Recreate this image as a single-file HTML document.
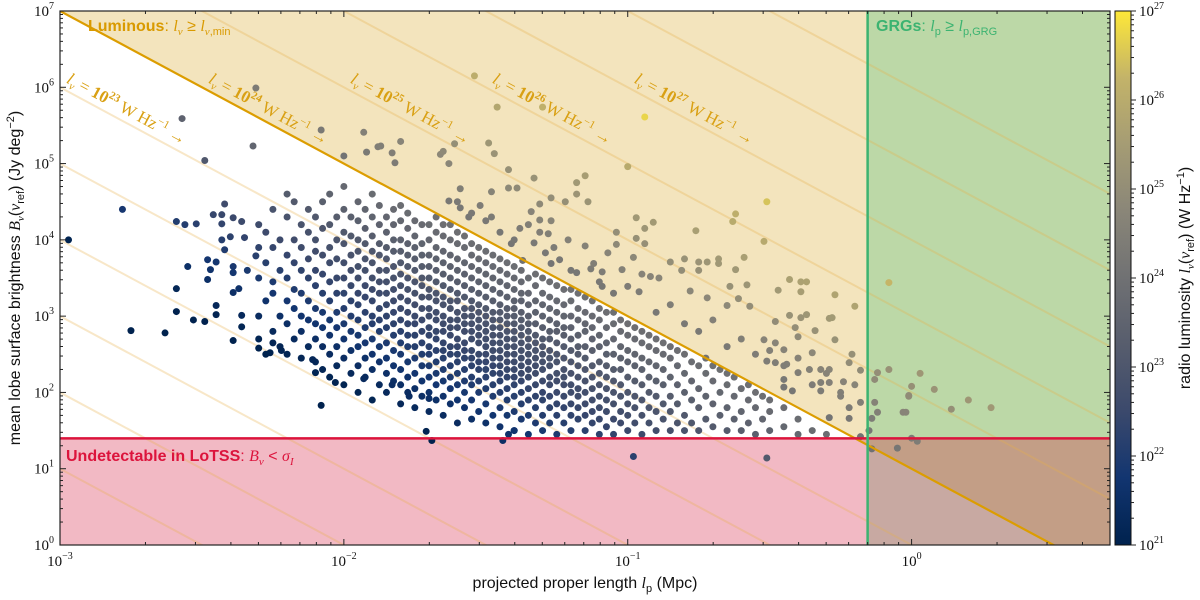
<!DOCTYPE html>
<html><head><meta charset="utf-8">
<style>
html,body{margin:0;padding:0;background:#fff;width:1200px;height:600px;overflow:hidden;}
svg{display:block;}
.ax{font-family:"Liberation Serif",serif;font-size:15px;fill:#111;}
.lab{font-family:"Liberation Sans",sans-serif;font-size:16px;fill:#111;}
.m{font-family:"Liberation Serif",serif;font-style:italic;}
</style></head>
<body>
<svg id="chart" width="1200" height="600" viewBox="0 0 1200 600">
<defs>
<clipPath id="plotclip"><rect x="60" y="11" width="1050" height="534"/></clipPath>
<linearGradient id="cbgrad" x1="0" y1="1" x2="0" y2="0">
<stop offset="0" stop-color="#00224e"/><stop offset="0.125" stop-color="#123570"/>
<stop offset="0.25" stop-color="#3b496c"/><stop offset="0.375" stop-color="#575d6d"/>
<stop offset="0.5" stop-color="#707173"/><stop offset="0.625" stop-color="#8a8678"/>
<stop offset="0.75" stop-color="#a59c74"/><stop offset="0.875" stop-color="#c3b369"/>
<stop offset="1" stop-color="#fee838"/></linearGradient>
</defs>
<g id="regions" clip-path="url(#plotclip)"></g>
<g id="guides" clip-path="url(#plotclip)"></g>
<g id="points" clip-path="url(#plotclip)"></g>
<g id="bounds" clip-path="url(#plotclip)"></g>
<g id="axes"></g>
<g id="annot">
<text x="88" y="31" style="font-family:'Liberation Sans',sans-serif;font-size:16px;fill:#d99a00;"><tspan font-weight="bold">Luminous</tspan>: <tspan class="m">l</tspan><tspan class="m" font-size="11" dy="4">ν</tspan><tspan dy="-4"> ≥ </tspan><tspan class="m">l</tspan><tspan font-size="11" dy="4"><tspan class="m">ν</tspan>,min</tspan></text>
<text x="876" y="31" style="font-family:'Liberation Sans',sans-serif;font-size:16px;fill:#3cb371;"><tspan font-weight="bold">GRGs</tspan>: <tspan class="m">l</tspan><tspan font-size="11" dy="4">p</tspan><tspan dy="-4"> ≥ </tspan><tspan class="m">l</tspan><tspan font-size="11" dy="4">p,GRG</tspan></text>
<text x="66" y="461" style="font-family:'Liberation Sans',sans-serif;font-size:16px;fill:#dc143c;"><tspan font-weight="bold">Undetectable in LoTSS</tspan>: <tspan class="m">B</tspan><tspan class="m" font-size="11" dy="4">ν</tspan><tspan dy="-4"> &lt; </tspan><tspan class="m">σ</tspan><tspan class="m" font-size="11" dy="4">I</tspan></text>
</g>
<g id="cbar">
<rect x="1115" y="11" width="16" height="534" fill="url(#cbgrad)" stroke="#111" stroke-width="1"/>
</g>
<text class="lab" transform="translate(1190,278) rotate(-90)" text-anchor="middle">radio luminosity <tspan class="m">l</tspan><tspan class="m" font-size="11" dy="4">ν</tspan><tspan dy="-4">(</tspan><tspan class="m">ν</tspan><tspan font-size="11" dy="4">ref</tspan><tspan dy="-4">) (W Hz</tspan><tspan font-size="11" dy="-6">−1</tspan><tspan dy="6">)</tspan></text>
<text class="lab" transform="translate(20,278) rotate(-90)" text-anchor="middle">mean lobe surface brightness <tspan class="m">B</tspan><tspan class="m" font-size="11" dy="4">ν</tspan><tspan dy="-4">(</tspan><tspan class="m">ν</tspan><tspan font-size="11" dy="4">ref</tspan><tspan dy="-4">) (Jy deg</tspan><tspan font-size="11" dy="-6">−2</tspan><tspan dy="6">)</tspan></text>
<text class="lab" x="585" y="588" text-anchor="middle">projected proper length <tspan class="m">l</tspan><tspan font-size="11" dy="4">p</tspan><tspan dy="-4"> (Mpc)</tspan></text>
</svg>
<script>
// ---- data ----
const xTickExp = [-3, -2, -1, 0];
const yTickExp = [0, 1, 2, 3, 4, 5, 6, 7];
const cbTickExp = [21, 22, 23, 24, 25, 26, 27];
const guideLumExp = [17, 18, 19, 20, 21, 22, 23, 25, 26, 27, 28, 29];
const lumMinExp = 24;
const grgLength = 0.7;
const sigmaB = 25;
const guideLabelExp = [23, 24, 25, 26, 27];
const guideLabelLogL = [-2.98, -2.48, -1.98, -1.48, -0.98];
// core columns: log10(l_p) and list of log10(B)
const colLogL = [-2.30,-2.275,-2.25,-2.225,-2.20,-2.175,-2.15,-2.125,-2.10,-2.075,-2.05,-2.025,-2.00,-1.975,-1.95,-1.925,-1.90,-1.875,-1.85,-1.825,-1.80,-1.775,-1.75,-1.725,-1.70,-1.675,-1.65,-1.625,-1.60,-1.575,-1.55,-1.525,-1.50,-1.475,-1.45,-1.425,-1.40,-1.375,-1.35,-1.325,-1.30,-1.275,-1.25,-1.225,-1.20,-1.175,-1.15,-1.125,-1.10,-1.075,-1.05,-1.025,-1.00,-0.975,-0.95,-0.925,-0.90,-0.875,-0.85,-0.825,-0.80,-0.775,-0.75,-0.725,-0.70,-0.675,-0.65,-0.625,-0.60,-0.575,-0.55,-0.525,-0.50,-0.45,-0.40,-0.35,-0.30];
const colLogB = [
[3.0,3.5,3.9,4.2,2.7],[2.5,3.2,3.7,4.1],[2.8,3.3,3.45,3.9,4.4],[2.6,3.0,3.6,4.0],
[2.5,2.9,3.2,3.5,3.8,4.3,4.6],[2.7,3.1,3.35,3.7,4.0,4.5],[2.45,2.8,3.0,3.3,3.6,3.9,4.2],[2.6,2.95,3.2,3.5,3.75,4.1,4.4],
[2.4,2.7,2.9,3.1,3.4,3.6,3.85,4.0,4.3],[2.3,2.6,2.85,3.05,3.3,3.55,3.8,4.15,4.5],[2.2,2.5,2.75,2.95,3.2,3.45,3.7,3.9,4.2,4.6],[2.35,2.6,2.85,3.05,3.3,3.5,3.75,4.0,4.3],
[2.1,2.45,2.7,2.9,3.1,3.3,3.5,3.7,3.95,4.1,4.4,4.7],[2.25,2.55,2.8,3.0,3.2,3.4,3.6,3.8,4.05,4.3],[2.0,2.35,2.6,2.75,2.95,3.15,3.3,3.5,3.65,3.85,4.0,4.25,4.5],[2.2,2.45,2.65,2.85,3.05,3.25,3.4,3.6,3.75,3.95,4.15,4.4],
[1.9,2.3,2.5,2.7,2.9,3.0,3.2,3.35,3.5,3.7,3.85,4.05,4.3,4.6],[2.1,2.4,2.6,2.8,2.95,3.1,3.3,3.45,3.6,3.8,3.95,4.2,4.45],[2.0,2.25,2.45,2.65,2.85,3.0,3.15,3.3,3.45,3.6,3.75,3.9,4.1,4.3],[2.15,2.35,2.55,2.75,2.9,3.05,3.2,3.35,3.5,3.65,3.85,4.0,4.2,4.4],
[1.85,2.1,2.3,2.5,2.65,2.8,2.95,3.1,3.25,3.4,3.55,3.7,3.85,4.0,4.25,4.45],[2.0,2.2,2.4,2.6,2.75,2.9,3.05,3.2,3.35,3.5,3.65,3.8,3.95,4.15,4.35],[1.8,2.05,2.25,2.45,2.6,2.75,2.9,3.0,3.15,3.3,3.45,3.6,3.75,3.9,4.05,4.25],[1.95,2.15,2.35,2.5,2.65,2.8,2.95,3.1,3.25,3.4,3.5,3.65,3.8,3.95,4.2],
[1.75,2.0,2.2,2.35,2.5,2.6,2.75,2.85,3.0,3.1,3.25,3.35,3.5,3.65,3.8,4.0,4.2],[1.9,2.1,2.25,2.4,2.55,2.7,2.8,2.95,3.05,3.2,3.3,3.45,3.6,3.75,3.9,4.1,4.3],[1.7,1.95,2.15,2.3,2.45,2.55,2.65,2.8,2.9,3.0,3.15,3.25,3.4,3.55,3.7,3.85,4.05,4.2],[1.85,2.05,2.2,2.35,2.5,2.6,2.75,2.85,2.95,3.1,3.2,3.35,3.5,3.65,3.8,4.0,4.2],
[1.6,1.9,2.1,2.25,2.4,2.5,2.6,2.7,2.85,2.95,3.05,3.2,3.3,3.45,3.6,3.75,3.95,4.1],[1.8,2.0,2.15,2.3,2.45,2.55,2.65,2.8,2.9,3.0,3.1,3.25,3.4,3.55,3.7,3.9,4.05],[1.65,1.9,2.1,2.2,2.35,2.45,2.55,2.7,2.8,2.9,3.0,3.1,3.2,3.35,3.5,3.65,3.8,3.95],[1.75,2.0,2.15,2.3,2.4,2.5,2.65,2.75,2.85,2.95,3.05,3.15,3.3,3.45,3.6,3.75,3.9],
[1.6,1.85,2.05,2.2,2.3,2.4,2.5,2.6,2.7,2.8,2.9,3.0,3.1,3.25,3.4,3.55,3.7,3.85],[1.7,1.95,2.1,2.25,2.35,2.45,2.55,2.65,2.75,2.85,2.95,3.05,3.2,3.35,3.5,3.65,3.8],[1.55,1.8,2.0,2.15,2.25,2.35,2.45,2.55,2.65,2.75,2.85,2.95,3.05,3.15,3.3,3.45,3.6,3.75],[1.7,1.9,2.05,2.2,2.3,2.4,2.5,2.6,2.7,2.8,2.9,3.0,3.1,3.25,3.4,3.55,3.7],
[1.5,1.75,1.95,2.1,2.2,2.3,2.4,2.5,2.6,2.7,2.8,2.9,3.0,3.1,3.2,3.35,3.5,3.65],[1.65,1.85,2.0,2.15,2.25,2.35,2.45,2.55,2.65,2.75,2.85,2.95,3.05,3.2,3.3,3.45,3.6],[1.45,1.7,1.9,2.05,2.2,2.3,2.4,2.5,2.6,2.7,2.8,2.9,3.0,3.15,3.3,3.5],[1.6,1.8,1.95,2.1,2.25,2.35,2.45,2.55,2.65,2.75,2.9,3.05,3.2,3.4,3.55],
[1.5,1.7,1.9,2.0,2.15,2.3,2.4,2.5,2.6,2.7,2.85,3.0,3.15,3.3,3.5],[1.6,1.8,1.95,2.1,2.2,2.35,2.45,2.55,2.7,2.8,2.95,3.1,3.25,3.45],[1.45,1.7,1.85,2.0,2.15,2.25,2.4,2.5,2.65,2.8,2.9,3.05,3.2,3.4],[1.6,1.8,1.95,2.1,2.2,2.3,2.45,2.6,2.75,2.85,3.0,3.15,3.35],
[1.5,1.7,1.85,2.0,2.1,2.25,2.4,2.55,2.7,2.85,3.0,3.2,3.35],[1.65,1.8,1.95,2.05,2.2,2.35,2.5,2.6,2.75,2.95,3.1,3.3],[1.5,1.7,1.85,2.0,2.15,2.3,2.45,2.6,2.8,2.9,3.05,3.25],[1.6,1.75,1.9,2.05,2.2,2.35,2.55,2.7,2.85,3.0,3.2],
[1.45,1.65,1.8,1.95,2.1,2.25,2.4,2.6,2.75,2.95,3.1],[1.55,1.75,1.9,2.05,2.2,2.35,2.5,2.65,2.85,3.05],[1.45,1.65,1.85,2.0,2.15,2.3,2.5,2.7,2.9,3.05],[1.6,1.75,1.95,2.1,2.3,2.45,2.6,2.8,2.95],
[1.5,1.7,1.85,2.0,2.2,2.4,2.55,2.75,2.9],[1.6,1.8,1.95,2.15,2.35,2.5,2.7,2.85],[1.45,1.7,1.9,2.1,2.3,2.45,2.65,2.8],[1.6,1.8,2.0,2.2,2.4,2.6,2.75],
[1.5,1.75,1.95,2.15,2.35,2.55,2.7],[1.65,1.85,2.1,2.3,2.5,2.65],[1.5,1.75,1.95,2.2,2.45,2.6],[1.6,1.85,2.1,2.35,2.55],
[1.5,1.7,2.0,2.25,2.5],[1.6,1.9,2.15,2.4],[1.5,1.8,2.05,2.35],[1.65,1.95,2.25,2.45],
[1.55,1.85,2.15,2.35],[1.7,2.0,2.3],[1.5,1.8,2.1,2.25],[1.65,1.95,2.2],
[1.5,1.75,2.05],[1.6,1.9,2.1],[1.45,1.8,2.0],[1.65,1.95],
[1.5,1.75,1.9],[1.55,1.8],[1.45,1.65],[1.5],[1.45]];
// sparse points: log10(l_p), log10(B)
const sparseLogL = [-2.97,-2.78,-2.75,-2.63,-2.59,-2.56,-2.52,-2.55,-2.59,-2.59,-2.53,-2.49,-2.49,-2.32,-2.42,-2.46,-2.43,-2.43,-2.39,-2.36,-2.43,-2.40,-2.35,-2.42,-2.48,-2.45,-2.47,-2.48,-2.39,-2.39,-2.34,-2.31,-2.39,-2.37,-2.45,-2.45,-2.36,-2.36,-2.39,-2.30,-2.26,-2.22,-2.25,-2.11,-2.10,-2.03,-2.08,-1.93,-1.71,-1.69,-1.83,-1.77,-1.70,-1.44,-1.42,-1.40,-0.98,-0.51,-0.14,-0.05,
-2.31,-2.57,-2.08,-1.93,-2.00,-1.92,-1.88,-1.87,-1.80,-1.83,-1.82,-1.66,-1.65,-1.61,-1.63,-1.54,-1.46,-1.49,-1.47,-1.42,-1.33,-1.59,-1.48,-1.42,-1.39,-1.63,-1.30,-0.94,-1.00,-0.51,-0.62,-0.63,-0.52,-0.08,-1.48,-1.56,-1.59,-1.41,-1.37,
-1.18,-1.15,-1.18,-1.27,-1.22,-1.14,-1.34,-1.31,-1.35,-1.31,-1.27,-1.31,-1.28,-1.33,-1.29,-1.26,-1.21,-1.15,-1.24,-1.27,-1.18,-1.13,-1.12,-1.07,-1.04,-1.04,-0.97,-0.94,-0.91,-0.97,-0.94,-1.02,-0.98,-0.95,-1.09,-1.09,-1.00,-0.96,-0.92,-0.89,-0.85,-0.81,-0.80,-0.75,-0.72,-0.75,-0.76,-0.68,-0.68,-0.59,-0.62,-0.78,-0.72,-0.64,-0.61,-0.65,-0.58,-0.57,-0.43,-0.39,-0.37,-0.47,-0.39,-0.27,-0.20,-0.43,-0.39,-0.37,-0.48,-0.41,-0.34,-0.29,-0.28,-0.40,-0.27,-0.52,-0.48,-0.45,-0.35,-0.21,-0.22,-0.51,-0.48,-0.44,-0.36,-0.32,-0.29,-0.18,-0.40,-0.45,-0.32,-0.29,-0.24,-0.45,-0.42,-0.32,-0.25,-0.22,-0.18,-0.29,-0.22,-0.18,-0.15,
-1.55,-1.50,-1.45,-1.40,-1.38,-1.52,-1.60,-1.20,-1.10,-1.05,-0.90,-0.85,-0.80,-0.75,-0.70,-0.65,-0.60,-0.55,-0.50,-0.45,-0.40,-0.35,-0.30,-0.25,-0.20,
-0.13,-0.12,-0.14,-0.02,-0.01,0.00,0.08,0.14,0.00,0.02,-0.13,-0.12,-0.08,0.03,-0.01,-0.03,0.20,0.28];
const sparseLogB = [4.00,4.40,2.81,2.78,4.24,4.20,4.21,3.65,3.36,3.06,2.95,2.93,5.04,5.23,4.47,4.33,4.33,4.21,4.29,4.24,4.00,4.04,4.03,3.87,3.74,3.71,3.61,3.48,3.65,3.57,3.60,3.79,3.31,3.36,3.14,3.02,3.01,2.86,2.68,2.58,2.52,2.55,2.65,2.43,2.26,2.13,1.83,2.18,1.49,1.37,2.10,1.95,1.92,1.37,1.45,1.50,1.16,1.14,1.26,1.27,
5.99,5.59,5.44,5.41,5.10,5.15,5.22,5.23,5.29,5.14,5.01,5.12,5.16,5.26,5.00,6.15,5.74,5.27,5.13,4.92,4.81,4.67,4.63,4.68,4.68,4.51,5.74,5.61,4.96,4.50,4.34,4.24,3.98,3.44,4.30,4.30,4.42,3.95,3.73,
4.75,4.84,4.60,4.55,4.50,4.50,4.37,4.47,4.20,4.26,4.25,4.10,4.08,3.96,3.83,3.90,4.00,3.92,3.74,3.69,3.57,3.62,3.69,3.83,3.94,4.10,4.29,4.15,4.23,4.02,3.95,3.61,3.77,3.55,3.58,3.39,3.39,3.32,3.52,3.50,3.71,3.60,3.75,3.71,3.71,3.60,4.12,3.75,3.69,3.77,3.61,3.33,3.24,3.39,3.23,3.14,3.41,3.13,3.48,3.45,3.45,3.34,3.32,3.28,3.13,3.01,2.98,3.02,2.93,2.85,2.81,2.97,2.98,2.73,2.69,2.69,2.65,2.56,2.52,2.50,2.39,2.41,2.39,2.37,2.30,2.30,2.30,2.29,2.26,2.17,2.13,2.13,2.14,2.07,2.02,2.02,2.00,1.80,1.87,1.67,1.66,1.42,1.50,
4.35,4.25,4.10,4.00,4.15,4.45,4.50,3.60,3.45,3.30,3.05,3.15,2.90,2.80,2.95,2.60,2.70,2.50,2.55,2.35,2.45,2.10,2.25,1.95,2.10,
1.87,1.74,1.66,1.74,1.96,2.08,2.04,1.78,1.40,1.36,2.17,2.26,2.30,2.25,1.95,1.74,1.90,1.80];

// ---- scales ----
const PX0=60, PX1=1110, PY0=11, PY1=545, XMIN=-3, XMAX=Math.log10(5), YMIN=0, YMAX=7;
const xs = v => PX0 + (v - XMIN) / (XMAX - XMIN) * (PX1 - PX0);
const ys = v => PY1 - (v - YMIN) / (YMAX - YMIN) * (PY1 - PY0);
const NS='http://www.w3.org/2000/svg';
function mk(tag, attrs, parent){const e=document.createElementNS(NS,tag);for(const k in attrs)e.setAttribute(k,attrs[k]);parent.appendChild(e);return e;}
const stops=[[0,0,34,78],[0.125,18,53,112],[0.25,59,73,108],[0.375,87,93,109],[0.5,112,113,115],[0.625,138,134,120],[0.75,165,156,116],[0.875,195,179,105],[1,254,232,56]];
function cividis(t){t=Math.max(0,Math.min(1,t));for(let i=1;i<stops.length;i++){if(t<=stops[i][0]){const a=stops[i-1],b=stops[i];const f=(t-a[0])/(b[0]-a[0]);return `rgb(${Math.round(a[1]+f*(b[1]-a[1]))},${Math.round(a[2]+f*(b[2]-a[2]))},${Math.round(a[3]+f*(b[3]-a[3]))})`;}}return 'rgb(254,232,56)';}
const guideB = (e, x) => (e - 23) - 2 * x;

// ---- regions ----
const reg=document.getElementById('regions');
const xg=xs(Math.log10(grgLength)), yr=ys(Math.log10(sigmaB));
let lumPoly=[[XMIN,YMAX+1],[XMAX,YMAX+1],[XMAX,guideB(lumMinExp,XMAX)],[XMIN,guideB(lumMinExp,XMIN)]].map(p=>xs(p[0])+','+ys(p[1])).join(' ');
let r1=mk('polygon',{points:lumPoly,fill:'rgb(215,165,35)','fill-opacity':0.3},reg);


let r2=mk('rect',{x:xg,y:PY0,width:PX1-xg,height:PY1-PY0,fill:'rgb(105,198,136)','fill-opacity':0.4},reg);


let r3=mk('rect',{x:PX0,y:yr,width:PX1-PX0,height:PY1-yr,fill:'rgb(212,22,58)','fill-opacity':0.3},reg);



// ---- guides ----
const gd=document.getElementById('guides');
guideLumExp.forEach(e=>{
  const l=mk('line',{x1:xs(XMIN),y1:ys(guideB(e,XMIN)),x2:xs(XMAX),y2:ys(guideB(e,XMAX)),stroke:'#e8b04a','stroke-opacity':0.3,'stroke-width':2},gd);
  
  
});
const ang=Math.atan2(ys(guideB(23,1))-ys(guideB(23,0)), xs(1)-xs(0))*180/Math.PI;
guideLabelExp.forEach((e,i)=>{
  const x=guideLabelLogL[i], px=xs(x), py=ys(guideB(e,x))-8;
  const t=mk('text',{transform:`translate(${px},${py}) rotate(${ang})`,style:"font-family:'Liberation Serif',serif;font-size:17px;fill:#d9a013;"},gd);
  t.innerHTML=`<tspan font-style="italic">l</tspan><tspan font-style="italic" font-size="11" dy="4">ν</tspan><tspan dy="-4"> = </tspan><tspan font-weight="bold">10</tspan><tspan font-weight="bold" font-size="11" dy="-7">${e}</tspan><tspan dy="7"> W Hz</tspan><tspan font-size="11" dy="-7">−1</tspan><tspan dy="7"> →</tspan>`;
  
  
});

// ---- points ----
const pg=document.getElementById('points');
function addPoint(lx,lb){
  const L=lb+2*lx+23;
  const c=mk('circle',{cx:xs(lx),cy:ys(lb),r:3.5,fill:cividis((L-21)/6)},pg);
  
  
}
colLogL.forEach((lx,i)=>colLogB[i].forEach(lb=>addPoint(lx,lb)));
sparseLogL.forEach((lx,i)=>addPoint(lx,sparseLogB[i]));

// ---- boundary lines ----
const bd=document.getElementById('bounds');
let b1=mk('line',{x1:xs(XMIN),y1:ys(guideB(lumMinExp,XMIN)),x2:xs(XMAX),y2:ys(guideB(lumMinExp,XMAX)),stroke:'#dc9d00','stroke-width':2.2},bd);


let b2=mk('line',{x1:PX0,y1:yr,x2:PX1,y2:yr,stroke:'#dc143c','stroke-width':2.5},bd);


let b3=mk('line',{x1:xg,y1:PY0,x2:xg,y2:PY1,stroke:'#3cb371','stroke-width':2.5},bd);



// ---- axes ----
const ax=document.getElementById('axes');
let frame=mk('rect',{x:PX0,y:PY0,width:PX1-PX0,height:PY1-PY0,fill:'none',stroke:'#222','stroke-width':1.2},ax);


for(let d=-3; d<=0; d++){ for(let m=1;m<=9;m++){ const v=d+Math.log10(m); if(v>XMAX) break; const x=xs(v); const len=m===1?6:3;
  mk('line',{x1:x,y1:PY1,x2:x,y2:PY1-len,stroke:'#222'},ax); mk('line',{x1:x,y1:PY0,x2:x,y2:PY0+len,stroke:'#222'},ax);} }
for(let d=0; d<=7; d++){ for(let m=1;m<=9;m++){ const v=d+Math.log10(m); if(v>YMAX) break; const y=ys(v); const len=m===1?6:3;
  mk('line',{x1:PX0,y1:y,x2:PX0+len,y2:y,stroke:'#222'},ax); mk('line',{x1:PX1,y1:y,x2:PX1-len,y2:y,stroke:'#222'},ax);} }
xTickExp.forEach(e=>{
  const t=mk('text',{x:xs(e),y:566,'text-anchor':'middle',class:'ax'},ax);
  t.innerHTML=`10<tspan font-size="10" dy="-7">${e<0?'−'+(-e):e}</tspan>`;
  
  
});
yTickExp.forEach(e=>{
  const t=mk('text',{x:54,y:ys(e)+5,'text-anchor':'end',class:'ax'},ax);
  t.innerHTML=`10<tspan font-size="10" dy="-7">${e}</tspan>`;
  
  
});
const cb=document.getElementById('cbar');
const cy=v=>PY1-(v-21)/6*(PY1-PY0);
for(let d=21; d<27; d++){ for(let m=1;m<=9;m++){ const y=cy(d+Math.log10(m)); mk('line',{x1:1131,y1:y,x2:m===1?1136:1134,y2:y,stroke:'#222'},cb);} }
mk('line',{x1:1131,y1:cy(27),x2:1136,y2:cy(27),stroke:'#222'},cb);
cbTickExp.forEach(e=>{
  const t=mk('text',{x:1139,y:cy(e)+5,class:'ax'},cb);
  t.innerHTML=`10<tspan font-size="10" dy="-7">${e}</tspan>`;
  
  
});
</script>
</body></html>
